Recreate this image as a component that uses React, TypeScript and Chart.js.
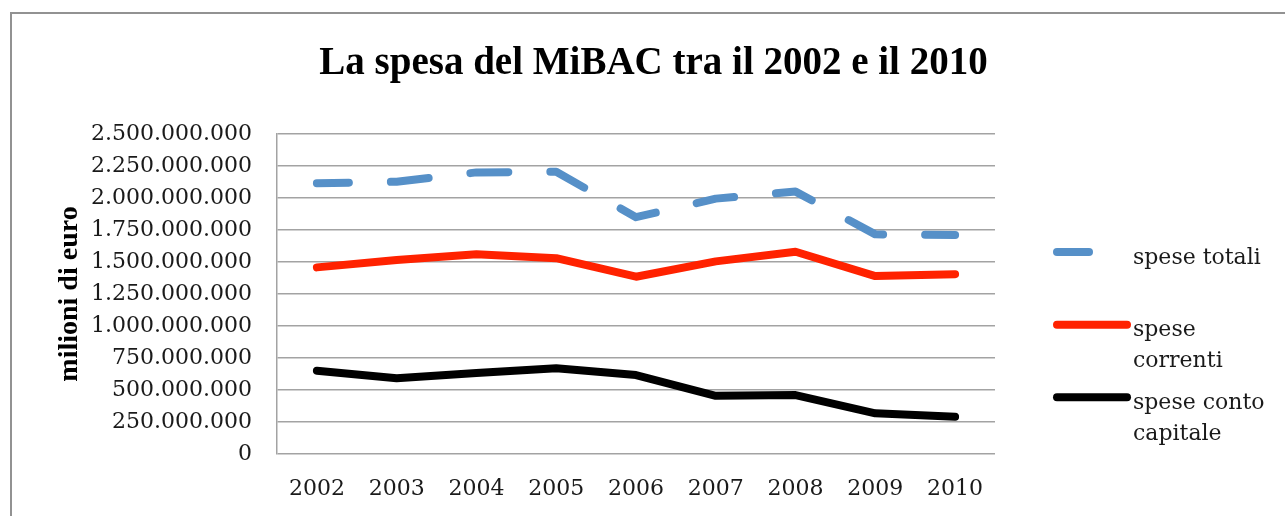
import React, { useEffect, useRef } from "react";
import { Chart, registerables } from "chart.js";

Chart.register(...registerables);

// ---- data ----
const years = ["2002", "2003", "2004", "2005", "2006", "2007", "2008", "2009", "2010"];
const speseTotali = [2.115e9, 2.127e9, 2.2e9, 2.205e9, 1.85e9, 1.995e9, 2.05e9, 1.716e9, 1.711e9];
const speseCorrenti = [1.458e9, 1.516e9, 1.56e9, 1.53e9, 1.385e9, 1.505e9, 1.58e9, 1.39e9, 1.405e9];
const speseContoCapitale = [0.651e9, 0.591e9, 0.633e9, 0.67e9, 0.617e9, 0.455e9, 0.46e9, 0.318e9, 0.291e9];
const seriesLabels = ["spese totali", "spese correnti", "spese conto capitale"];
const legendLines = [["spese totali"], ["spese", "correnti"], ["spese conto", "capitale"]];
const yTickValues = [0, 250e6, 500e6, 750e6, 1000e6, 1250e6, 1500e6, 1750e6, 2000e6, 2250e6, 2500e6];
const chartTitle = "La spesa del MiBAC tra il 2002 e il 2010";
const yAxisTitle = "milioni di euro";

const formatIt = (v: number) => String(Math.round(v)).replace(/\B(?=(\d{3})+(?!\d))/g, ".");

const labelFont = { family: "'DejaVu Serif', serif", size: 22 };
const gridColor = "#a3a3a3";

const sideLegend = {
  id: "sideLegend",
  afterDraw(chart: any) {
    const ctx = chart.ctx as CanvasRenderingContext2D;
    const x0 = chart.chartArea.right + 62;
    const x1 = x0 + 70;
    const textX = x1 + 6;
    const firstY = 252;
    const step = 72.65;
    chart.data.datasets.forEach((ds: any, i: number) => {
      const y = firstY + i * step;
      ctx.save();
      ctx.strokeStyle = ds.borderColor;
      ctx.lineWidth = ds.borderWidth;
      ctx.lineCap = "round";
      ctx.setLineDash(ds.borderDash || []);
      ctx.lineDashOffset = ds.borderDashOffset || 0;
      ctx.beginPath();
      ctx.moveTo(x0, y);
      ctx.lineTo(x1, y);
      ctx.stroke();
      ctx.setLineDash([]);
      ctx.font = `${labelFont.size}px ${labelFont.family}`;
      ctx.fillStyle = "#1a1a1a";
      ctx.textBaseline = "alphabetic";
      ctx.textAlign = "left";
      (legendLines[i] || [ds.label]).forEach((ln: string, k: number) => {
        ctx.fillText(ln, textX, y + 11.5 + k * 31);
      });
      ctx.restore();
    });
  },
};

export default function App() {
  const canvasRef = useRef<HTMLCanvasElement | null>(null);

  useEffect(() => {
    if (!canvasRef.current) return;
    const chart = new Chart(canvasRef.current, {
      type: "line",
      data: {
        labels: years,
        datasets: [
          {
            label: seriesLabels[0],
            data: speseTotali,
            borderColor: "#5690c8",
            backgroundColor: "#5690c8",
            borderWidth: 8,
            borderDash: [38, 42],
            borderDashOffset: 6,
            borderCapStyle: "round",
            borderJoinStyle: "round",
            pointRadius: 0,
            tension: 0,
          },
          {
            label: seriesLabels[1],
            data: speseCorrenti,
            borderColor: "#ff2200",
            backgroundColor: "#ff2200",
            borderWidth: 8,
            borderCapStyle: "round",
            borderJoinStyle: "round",
            pointRadius: 0,
            tension: 0,
          },
          {
            label: seriesLabels[2],
            data: speseContoCapitale,
            borderColor: "#000000",
            backgroundColor: "#000000",
            borderWidth: 8,
            borderCapStyle: "round",
            borderJoinStyle: "round",
            pointRadius: 0,
            tension: 0,
          },
        ],
      },
      options: {
        responsive: false,
        animation: false,
        layout: { padding: { left: 22, right: 0, top: 0, bottom: 0 } },
        plugins: {
          legend: { display: false },
          tooltip: { enabled: false },
          title: {
            display: true,
            text: chartTitle,
            color: "#000",
            font: { family: "'Liberation Serif', serif", size: 39, weight: "bold" },
            padding: { top: 41, bottom: 46.2 },
          },
        },
        scales: {
          x: {
            offset: true,
            grid: { display: false, drawTicks: false },
            border: { display: false },
            ticks: { padding: 22, color: "#1a1a1a", font: labelFont, maxRotation: 0 },
            afterFit: (s: any) => {
              s.height = 62;
            },
          },
          y: {
            min: 0,
            max: 2.5e9,
            afterBuildTicks: (axis: any) => {
              axis.ticks = yTickValues.map((v) => ({ value: v }));
            },
            ticks: {
              padding: 25,
              color: "#1a1a1a",
              font: labelFont,
              callback: (v: any) => formatIt(Number(v)),
            },
            grid: { color: gridColor, lineWidth: 1.5, drawTicks: false },
            border: { display: true, color: gridColor, width: 1.5 },
            title: {
              display: true,
              text: yAxisTitle,
              color: "#000",
              font: { family: "'Liberation Serif', serif", size: 28, weight: "bold" },
              padding: { top: 31, bottom: 0 },
            },
            afterFit: (s: any) => {
              s.width = 255;
            },
          },
          legendSpace: {
            type: "linear",
            position: "right",
            display: true,
            grid: { display: false, drawTicks: false },
            border: { display: false },
            ticks: { display: false },
            afterFit: (s: any) => {
              s.width = 290;
            },
          },
        },
      } as any,
      plugins: [sideLegend],
    });
    return () => chart.destroy();
  }, []);

  return (
    <div
      style={{
        position: "fixed",
        left: 0,
        top: 0,
        width: 1285,
        height: 516,
        background: "#fff",
        overflow: "hidden",
      }}
    >
      <div
        style={{
          position: "absolute",
          left: 10,
          top: 12,
          width: 1400,
          height: 600,
          border: "2px solid #929292",
        }}
      />
      <canvas
        ref={canvasRef}
        width={1285}
        height={516}
        style={{ position: "absolute", left: 0, top: 0, width: 1285, height: 516 }}
      />
    </div>
  );
}
